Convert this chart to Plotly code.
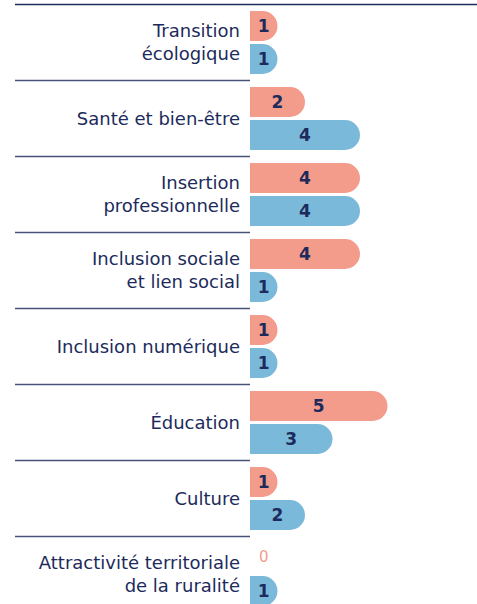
import plotly.graph_objects as go

categories = [
    "Transition<br>écologique",
    "Santé et bien-être",
    "Insertion<br>professionnelle",
    "Inclusion sociale<br>et lien social",
    "Inclusion numérique",
    "Éducation",
    "Culture",
    "Attractivité territoriale<br>de la ruralité",
]
series_a = [1, 2, 4, 4, 1, 5, 1, 0]   # salmon
series_b = [1, 4, 4, 1, 1, 3, 2, 1]   # blue

SALMON = "#F39C8C"
BLUE = "#7BB9DB"
NAVY = "#1C2B5B"
LINE = "#47537A"
LABEL_FONT = "DejaVu Sans"

W, H = 477, 604
x0_px = 250

fig = go.Figure()
for vals, col in [(series_a, SALMON), (series_b, BLUE)]:
    fig.add_trace(go.Bar(
        y=categories, x=vals, orientation="h",
        marker=dict(color=col, line=dict(width=0), cornerradius="50%"),
        text=[str(v) if v > 0 else "" for v in vals],
        textposition="inside", insidetextanchor="middle",
        textfont=dict(family=LABEL_FONT, size=17, color=NAVY, weight="bold"),
        constraintext="none",
        hoverinfo="skip",
    ))

# zero-value labels
for c, v in zip(categories, series_a):
    if v == 0:
        fig.add_annotation(x=0.5, y=c, yshift=18, text=str(v), showarrow=False,
                           font=dict(family=LABEL_FONT, size=15, color=SALMON),
                           xref="x", yref="y")

n = len(categories)
shapes = [dict(type="line", xref="paper", yref="y", x0=15 / W, x1=1,
               y0=-0.5, y1=-0.5, line=dict(color=NAVY, width=1.5))]
for i in range(n - 1):
    shapes.append(dict(type="line", xref="paper", yref="y", x0=15 / W, x1=x0_px / W,
                       y0=i + 0.5, y1=i + 0.5, line=dict(color=LINE, width=1.5)))

group_px = 76
r_top = -42.5 / group_px
r_bot = r_top + H / group_px

fig.update_layout(
    width=W, height=H,
    margin=dict(l=0, r=0, t=0, b=0),
    paper_bgcolor="white", plot_bgcolor="white",
    barmode="group", bargap=10 / 76, bargroupgap=3 / 33,
    showlegend=False,
    hovermode=False,
    shapes=shapes,
    xaxis=dict(domain=[x0_px / W, 1], range=[0, (W - x0_px) / 27.5],
               visible=False, fixedrange=True),
    yaxis=dict(range=[r_bot, r_top], showgrid=False, zeroline=False,
               showline=False, ticks="", automargin=False, fixedrange=True,
               tickfont=dict(family=LABEL_FONT, size=18, color=NAVY),
               ticklabelstandoff=9),
    font=dict(family=LABEL_FONT),
)

fig.write_html("out.html",
               config={"displayModeBar": False, "staticPlot": True},
               post_script="document.body.style.margin='0';document.body.style.overflow='hidden';")
